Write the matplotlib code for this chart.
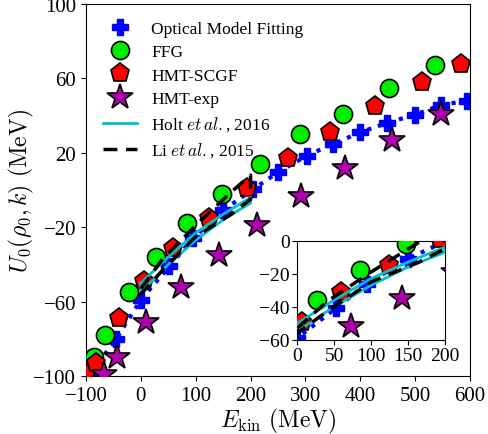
import numpy as np
import matplotlib
matplotlib.use("Agg")
from matplotlib import pyplot as plt
from matplotlib.lines import Line2D

plt.rcParams['font.family'] = ['Liberation Serif', 'DejaVu Serif']
plt.rcParams['mathtext.fontset'] = 'cm'

# optical model fitting (blue plus, dotted)
opt_x = [-90, -45, 0, 52, 95, 150, 205, 250, 302, 350, 400, 448, 500, 548, 595]
opt_y = [-98, -80, -59, -41, -26, -11, 0.5, 9.5, 18.4, 24.7, 31, 36, 40.5, 45.7, 48]
# FFG
ffg_x = [-85, -65, -22, 27, 85, 148, 217, 291, 369, 452, 537]
ffg_y = [-90, -78, -55, -36, -18, -2, 14, 30, 41, 55, 67]
# HMT-SCGF
scgf_x = [-100, -82, -40, 6, 59, 125, 193, 269, 345, 427, 512, 584]
scgf_y = [-99, -93, -69, -49, -31, -15, 1, 17, 31, 45, 58, 68]
# HMT-exp
exp_x = [-67, -44, 9, 73, 142, 212, 292, 373, 458, 548]
exp_y = [-99, -90, -71, -52, -35, -19, -3, 12, 27, 41]
# Holt et al. 2016 band
holt_x = [0, 50, 100, 150, 200]
holt_up = [-50, -36, -23, -13, -4]
holt_lo = [-55, -40, -27, -16, -7]
# Li et al. 2015 band
li_x = [0, 40, 100, 165, 200]
li_up = [-53, -37, -19, -1, 8]
li_lo = [-56, -43, -25, -13, -5]

green = '#00ee00'
purple = '#b000b0'
cyan = '#00c0c8'


def draw(ax):
    ax.plot(opt_x, opt_y, color='blue', ls=':', lw=3, marker='P', ms=12,
            mec='blue', zorder=2)
    ax.plot(ffg_x, ffg_y, 'o', color=green, mec='black', mew=1.2, ms=13, zorder=3)
    ax.plot(scgf_x, scgf_y, 'p', color='red', mec='black', mew=1.2, ms=14, zorder=3)
    ax.plot(exp_x, exp_y, '*', color=purple, mec='black', mew=1.2, ms=19, zorder=3)
    hx = holt_x + holt_x[::-1] + holt_x[:1]
    hy = holt_up + holt_lo[::-1] + holt_up[:1]
    ax.plot(hx, hy, color=cyan, lw=2, zorder=4)
    lx = li_x + li_x[::-1] + li_x[:1]
    ly = li_up + li_lo[::-1] + li_up[:1]
    ax.plot(lx, ly, color='black', ls='--', lw=2.5, dashes=(4, 2.5), zorder=4)


fig = plt.figure(figsize=(4.89, 4.35), dpi=100)
ax = fig.add_axes([0.1759, 0.1333, 0.7852, 0.8552])
draw(ax)
ax.set_xlim(-100, 600)
ax.set_ylim(-100, 100)
ax.set_xticks([-100, 0, 100, 200, 300, 400, 500, 600])
ax.set_yticks([-100, -60, -20, 20, 60, 100])
ax.tick_params(labelsize=15)
ax.set_xlabel(r'$E_{\rm kin}\ \rm (MeV)$', fontsize=17, labelpad=1)
ax.set_ylabel(r'$U_0(\rho_0,k)\ \rm (MeV)$', fontsize=17, labelpad=-2)

handles = [
    Line2D([], [], ls='none', marker='P', ms=12, color='blue', mec='blue'),
    Line2D([], [], ls='none', marker='o', ms=13, color=green, mec='black', mew=1.2),
    Line2D([], [], ls='none', marker='p', ms=14, color='red', mec='black', mew=1.2),
    Line2D([], [], ls='none', marker='*', ms=19, color=purple, mec='black', mew=1.2),
    Line2D([], [], color=cyan, lw=2),
    Line2D([], [], color='black', ls='--', lw=2.5, dashes=(4, 2.5)),
]
labels = ['Optical Model Fitting', 'FFG', 'HMT-SCGF', 'HMT-exp',
          r'Holt $et\,al.$, 2016', r'Li $et\,al.$, 2015']
ax.legend(handles, labels, loc='upper left', frameon=False, fontsize=12.5,
          handlelength=2.0, borderaxespad=0.55, labelspacing=0.42,
          bbox_to_anchor=(0, 1))

ins = fig.add_axes([0.608, 0.2168, 0.3014, 0.2276])
draw(ins)
ins.set_xlim(0, 200)
ins.set_ylim(-60, 0)
ins.set_xticks([0, 50, 100, 150, 200])
ins.set_yticks([-60, -40, -20, 0])
ins.tick_params(labelsize=14, pad=2)

fig.savefig('out.png', dpi=100)
